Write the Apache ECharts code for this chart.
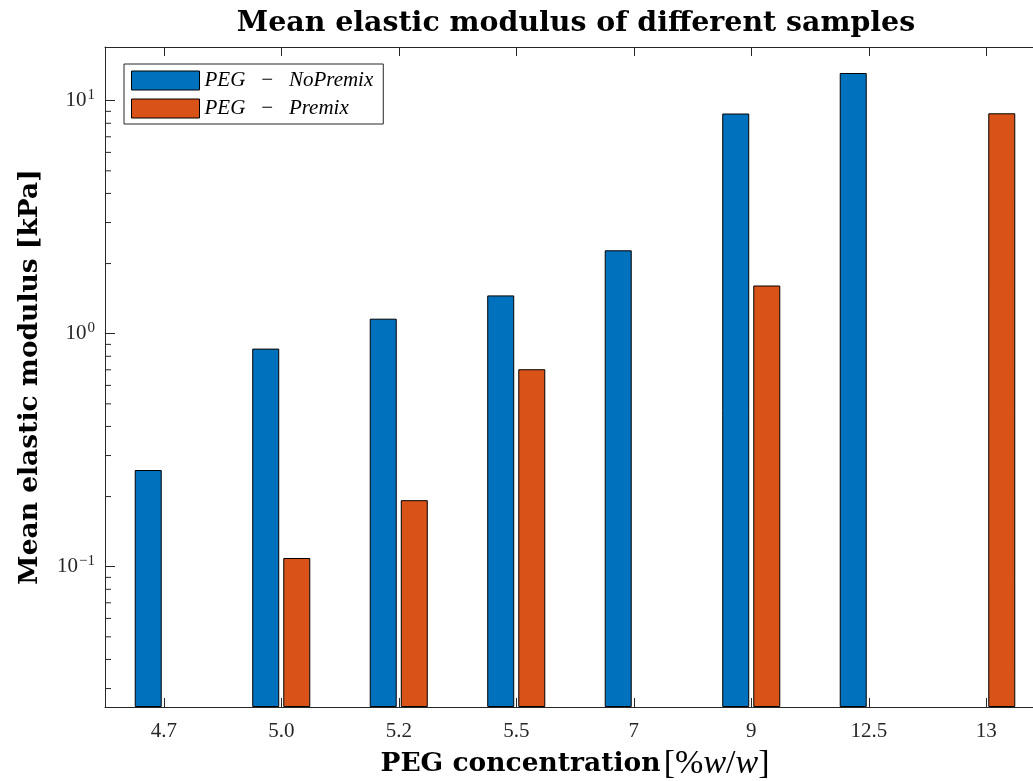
<!DOCTYPE html>
<html>
<head>
<meta charset="utf-8">
<script src="https://cdn.jsdelivr.net/npm/echarts@6/dist/echarts.min.js"></script>
<style>
  html, body { margin: 0; padding: 0; background: #ffffff; overflow: hidden; }
  /* the plot box runs a little past the right edge of the window */
  #chart { width: 1060px; height: 781px; }
</style>
</head>
<body>
<div id="chart"></div>
<script>
// PEG concentrations (% w/w) shown on the category axis
const categories = ['4.7', '5.0', '5.2', '5.5', '7', '9', '12.5', '13'];

// Mean elastic modulus [kPa]; null where a sample was not measured
const noPremix = [0.26, 0.863, 1.16, 1.46, 2.28, 8.81, 13.15, null];
const premix   = [null, 0.109, 0.193, 0.704, null, 1.61, null, 8.83];

// Log-axis range and minor tick values
const yMin = 0.025;
const yMax = 17;
const minorTickValues = [
  0.03, 0.04, 0.05, 0.06, 0.07, 0.08, 0.09,
  0.2, 0.3, 0.4, 0.5, 0.6, 0.7, 0.8, 0.9,
  2, 3, 4, 5, 6, 7, 8, 9
];

const seriesNames = ['PEG\u2002\u2009\u2212\u2002\u2009NoPremix', 'PEG\u2002\u2009\u2212\u2002\u2009Premix'];
const colors = ['#0072BD', '#D95319'];

const axisColor = '#262626';
const serif = '"Liberation Serif", "DejaVu Serif", serif';
const boldSerif = '"DejaVu Serif", "Liberation Serif", serif';

const chart = echarts.init(document.getElementById('chart'), null, { renderer: 'canvas' });

function decadeLabel(v) {
  const e = Math.log10(v);
  const r = Math.round(e);
  if (Math.abs(e - r) > 1e-6) return '';
  return '{b|10}{s|' + (r < 0 ? '\u2212' + (-r) : r) + '}';
}

const option = {
  backgroundColor: '#ffffff',
  animation: false,
  title: {
    text: 'Mean elastic modulus of different samples',
    left: 571,
    top: 5,
    textAlign: 'center',
    textStyle: { fontFamily: boldSerif, fontWeight: 'bold', fontSize: 28.4, color: '#000' }
  },
  legend: {
    orient: 'vertical',
    left: 124,
    top: 64,
    data: seriesNames,
    icon: 'rect',
    itemWidth: 68,
    itemHeight: 19,
    itemGap: 7,
    padding: [6, 10, 5, 7],
    borderColor: '#262626',
    borderWidth: 1,
    backgroundColor: '#ffffff',
    itemStyle: { borderColor: '#000', borderWidth: 1 },
    textStyle: { fontFamily: serif, fontStyle: 'italic', fontSize: 21, color: '#000', padding: [0, 0, 0, 0] }
  },
  grid: { left: 105, top: 47, width: 940, height: 660, containLabel: false, outerBoundsMode: 'none' },
  xAxis: [
    {
      type: 'category',
      data: categories,
      position: 'bottom',
      name: '{b|PEG concentration} {r|[%}{i|w}{r|/}{i|w}{r|]}',
      nameLocation: 'middle',
      nameGap: 38,
      nameTextStyle: {
        rich: {
          b: { fontFamily: boldSerif, fontWeight: 'bold', fontSize: 26.5, color: '#000' },
          r: { fontFamily: serif, fontSize: 34, color: '#000' },
          i: { fontFamily: serif, fontStyle: 'italic', fontSize: 34, color: '#000' }
        }
      },
      axisLine: { show: true, lineStyle: { color: axisColor, width: 1 } },
      axisTick: { show: true, inside: true, alignWithLabel: true, length: 9, lineStyle: { color: axisColor } },
      axisLabel: { fontFamily: serif, fontSize: 21, color: '#262626', margin: 14 },
      splitLine: { show: false }
    },
    {
      type: 'category',
      data: categories,
      position: 'top',
      axisLine: { show: true, lineStyle: { color: axisColor, width: 1 } },
      axisTick: { show: true, inside: true, alignWithLabel: true, length: 9, lineStyle: { color: axisColor } },
      axisLabel: { show: false },
      splitLine: { show: false }
    }
  ],
  yAxis: {
    type: 'log',
    logBase: 10,
    min: yMin,
    max: yMax,
    startValue: yMin,
    name: 'Mean elastic modulus [kPa]',
    nameLocation: 'middle',
    nameGap: 61,
    nameTextStyle: { fontFamily: boldSerif, fontWeight: 'bold', fontSize: 26.5, color: '#000' },
    axisLine: { show: true, lineStyle: { color: axisColor, width: 1 } },
    axisTick: { show: true, inside: true, length: 10, lineStyle: { color: axisColor } },
    axisLabel: {
      showMinLabel: false,
      showMaxLabel: false,
      margin: 10,
      formatter: decadeLabel,
      rich: {
        b: { fontFamily: serif, fontSize: 21, color: '#262626' },
        s: { fontFamily: serif, fontSize: 15, color: '#262626', verticalAlign: 'top', padding: [0, 0, 12, 1] }
      }
    },
    splitLine: { show: false },
    minorTick: { show: false }
  },
  series: [
    {
      name: seriesNames[0],
      type: 'bar',
      data: noPremix,
      barWidth: 27,
      barGap: '15%',
      itemStyle: { color: colors[0], borderColor: '#000', borderWidth: 1 }
    },
    {
      name: seriesNames[1],
      type: 'bar',
      data: premix,
      barWidth: 27,
      barGap: '15%',
      itemStyle: { color: colors[1], borderColor: '#000', borderWidth: 1 }
    },
    {
      // minor ticks of the log axis, placed through the axis scale
      name: 'minorTicks',
      type: 'custom',
      silent: true,
      data: minorTickValues.map(v => [0, v]),
      renderItem: function (params, api) {
        const y = api.coord([0, api.value(1)])[1];
        const x0 = params.coordSys.x;
        return {
          type: 'line',
          shape: { x1: x0, y1: y, x2: x0 + 6, y2: y },
          style: { stroke: axisColor, lineWidth: 1 }
        };
      },
      z: 5
    }
  ]
};

chart.setOption(option);
</script>
</body>
</html>
